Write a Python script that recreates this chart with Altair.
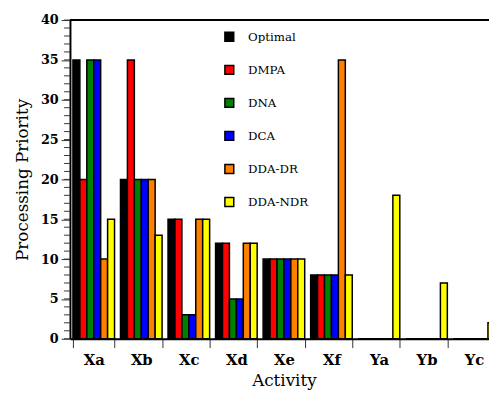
import altair as alt
import pandas as pd

activities = ["Xa", "Xb", "Xc", "Xd", "Xe", "Xf", "Ya", "Yb", "Yc"]
series = ["Optimal", "DMPA", "DNA", "DCA", "DDA-DR", "DDA-NDR"]
colors = ["#000000", "#ff0000", "#008000", "#0000ff", "#ff8000", "#ffff00"]

optimal = [35, 20, 15, 12, 10, 8, 0, 0, 0]
dmpa = [20, 35, 15, 12, 10, 8, 0, 0, 0]
dna = [35, 20, 3, 5, 10, 8, 0, 0, 0]
dca = [35, 20, 3, 5, 10, 8, 0, 0, 0]
dda_dr = [10, 20, 15, 12, 10, 35, 0, 0, 0]
dda_ndr = [15, 13, 15, 12, 10, 8, 18, 7, 2]

y_major = list(range(0, 41, 5))
y_minor = list(range(0, 41))

values_by_series = [optimal, dmpa, dna, dca, dda_dr, dda_ndr]
rows = []
for s, vals in zip(series, values_by_series):
    for a, v in zip(activities, vals):
        rows.append({"Activity": a, "Method": s, "Priority": v})
df = pd.DataFrame(rows)
minor_df = pd.DataFrame({"v": y_minor})

FONT = "DejaVu Serif"
W, H = 426, 324

xscale = alt.Scale(domain=activities, range=[0, 435], paddingInner=0.125, paddingOuter=0.0625)
yscale = alt.Scale(domain=[0, 40], nice=False)

bars = alt.Chart(df).mark_bar(stroke="black", strokeWidth=1.5).encode(
    x=alt.X("Activity:N", scale=xscale, sort=activities,
            axis=alt.Axis(title="Activity", tickBand="extent", tickSize=9, tickColor="#333",
                          labelAngle=0, labelFont=FONT, labelFontSize=15, labelFontWeight="bold",
                          labelColor="black", labelPadding=5,
                          titleFont=FONT, titleFontSize=17, titleFontWeight="normal",
                          titleColor="black", titlePadding=6,
                          domainColor="black", domainWidth=2)),
    xOffset=alt.XOffset("Method:N", sort=series,
                        scale=alt.Scale(domain=series, paddingInner=0, paddingOuter=0)),
    y=alt.Y("Priority:Q", scale=yscale,
            axis=alt.Axis(orient="left", values=y_major, title="Processing Priority",
                          tickSize=9, tickColor="#333", labelFont=FONT, labelFontSize=13,
                          labelFontWeight="bold", labelColor="black", labelPadding=3,
                          titleFont=FONT, titleFontSize=17, titleFontWeight="normal",
                          titleColor="black", titlePadding=9,
                          domainColor="black", domainWidth=2, grid=False)),
    color=alt.Color("Method:N", sort=series,
                    scale=alt.Scale(domain=series, range=colors),
                    legend=alt.Legend(title=None, orient="none", legendX=156, legendY=11,
                                      symbolType="square", symbolSize=81,
                                      symbolStrokeColor="black", symbolStrokeWidth=1.5,
                                      symbolOpacity=1, labelFont=FONT, labelFontSize=12,
                                      labelColor="black", labelOffset=13, rowPadding=17.6,
                                      padding=0)),
)

minor = alt.Chart(minor_df).mark_rule(color="#333", strokeWidth=1).encode(
    y=alt.Y("v:Q", scale=yscale),
    x=alt.value(-6),
    x2=alt.value(0),
)

top = alt.Chart(pd.DataFrame({"a": [0]})).mark_rule(color="black", strokeWidth=2).encode(
    x=alt.value(0), x2=alt.value(435), y=alt.value(0)
)

chart = alt.layer(bars, minor, top).properties(
    width=W, height=H,
    autosize=alt.AutoSizeParams(type="none"),
    padding={"left": 63, "top": 9, "right": 0, "bottom": 59},
).configure_view(stroke=None)

chart.save("out.html", embed_options={"renderer": "svg", "actions": False})
